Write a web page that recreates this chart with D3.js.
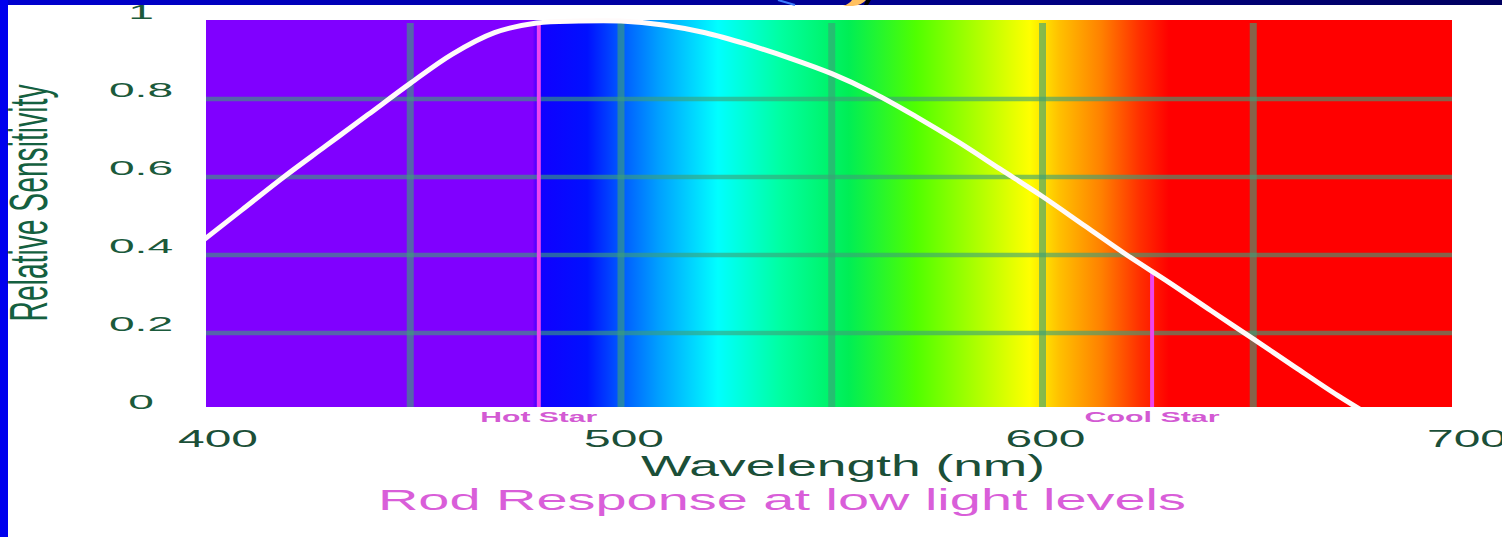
<!DOCTYPE html>
<html lang="en">
<head>
  <meta charset="UTF-8">
  <title>Rod Response</title>
  <script src="https://cdn.jsdelivr.net/npm/d3@7"></script>
  <style>
    body { margin: 0; background: #fff; }
    svg { display: block; font-family: "Liberation Sans", Arial, sans-serif; }
  </style>
</head>
<body>
  <div id="chart"></div>
  <script>
    // rod sensitivity curve
    const wavelength = [400, 410, 420, 430, 440, 450, 460, 470, 480, 490, 500, 510, 520, 530, 540,
      550, 560, 570, 580, 590, 600, 610, 620, 630, 640, 650, 660, 670, 676]
    const sensitivity = [0.43, 0.515, 0.6, 0.68, 0.76, 0.84, 0.915, 0.97, 0.995, 1.0, 1.0, 0.99, 0.97, 0.94, 0.905,
      0.865, 0.815, 0.755, 0.69, 0.62, 0.55, 0.475, 0.40, 0.33, 0.257, 0.185, 0.112, 0.04, 0]

    const xTicks = [400, 500, 600, 700]
    const yTicks = [0, 0.2, 0.4, 0.6, 0.8, 1]
    const yTickLabels = ["0", "0.2", "0.4", "0.6", "0.8", "1"]
    const gridX = [450, 500, 550, 600, 650]
    const gridY = [0.2, 0.4, 0.6, 0.8]

    const starNames = ["Hot Star", "Cool Star"]
    const starWavelengths = [480.5, 626]

    // background spectrum
    const spectrumNm = [400, 479, 481, 492, 499, 509, 523, 538, 554, 570, 597, 604, 614, 623, 630, 700]
    const spectrumColors = ["#8000ff", "#8000ff", "#1000ff", "#0010ff", "#0050ff", "#00a0ff", "#00ffff",
      "#00ffa0", "#00ee55", "#50ff00", "#ffff00", "#ffc000", "#ff8000", "#ff3000", "#ff0000", "#ff0000"]

    const width = 1502
    const height = 537
    const plot = { left: 206, right: 1452, top: 20, bottom: 407 }

    const x = d3.scaleLinear().domain([400, 700]).range([199.5, 1464])
    const y = d3.scaleLinear().domain([0, 1]).range([411, 21])

    const svg = d3.select("#chart").append("svg")
      .attr("width", width)
      .attr("height", height)

    svg.append("rect").attr("width", width).attr("height", height).attr("fill", "#fff")

    const defs = svg.append("defs")
    const grad = defs.append("linearGradient")
      .attr("id", "spectrum")
      .attr("gradientUnits", "userSpaceOnUse")
      .attr("x1", x(400)).attr("x2", x(700))
      .attr("y1", 0).attr("y2", 0)
    grad.selectAll("stop")
      .data(spectrumNm)
      .enter().append("stop")
      .attr("offset", d => (d - 400) / 300)
      .attr("stop-color", (_, i) => spectrumColors[i])

    const topBand = defs.append("linearGradient").attr("id", "band")
    topBand.append("stop").attr("offset", 0).attr("stop-color", "#0000d0")
    topBand.append("stop").attr("offset", 1).attr("stop-color", "#000060")

    defs.append("clipPath").attr("id", "plotClip")
      .append("rect")
      .attr("x", plot.left).attr("y", 0)
      .attr("width", plot.right - plot.left)
      .attr("height", plot.bottom)

    // slide frame
    svg.append("rect").attr("x", 0).attr("y", 0).attr("width", width).attr("height", 5).attr("fill", "url(#band)")
    svg.append("rect").attr("x", 0).attr("y", 0).attr("width", 8).attr("height", height).attr("fill", "#0000ee")

    // scraps of the slide title that got cropped away
    svg.append("line").attr("x1", 778).attr("y1", 0).attr("x2", 795).attr("y2", 5)
      .attr("stroke", "#3a7cff").attr("stroke-width", 2)
    svg.append("path").attr("d", "M866,0 L871,0 L868,5 L864,5 Z").attr("fill", "#000")
    svg.append("path").attr("d", "M852,0 L866,0 Q862,5 853,6 L843,6 Q849,4 852,0 Z").attr("fill", "#ffc060")

    svg.append("rect")
      .attr("x", plot.left).attr("y", plot.top)
      .attr("width", plot.right - plot.left)
      .attr("height", plot.bottom - plot.top)
      .attr("fill", "url(#spectrum)")

    const gridColor = "rgb(60,160,120)"
    const grid = svg.append("g").attr("clip-path", "url(#plotClip)")
    grid.selectAll(".gx")
      .data(gridX)
      .enter().append("line")
      .attr("x1", d => x(d)).attr("x2", d => x(d))
      .attr("y1", plot.top + 3).attr("y2", plot.bottom)
      .attr("stroke", gridColor)
      .attr("stroke-opacity", 0.62)
      .attr("stroke-width", 7)
    grid.selectAll(".gy")
      .data(gridY)
      .enter().append("line")
      .attr("x1", plot.left).attr("x2", plot.right)
      .attr("y1", d => y(d)).attr("y2", d => y(d))
      .attr("stroke", gridColor)
      .attr("stroke-opacity", 0.62)
      .attr("stroke-width", 4.5)

    const curve = wavelength.map((w, i) => [w, sensitivity[i]])
    const valueAt = w => {
      const i = d3.bisectLeft(wavelength, w)
      const t = (w - wavelength[i - 1]) / (wavelength[i] - wavelength[i - 1])
      return sensitivity[i - 1] + t * (sensitivity[i] - sensitivity[i - 1])
    }

    // star markers
    grid.selectAll(".star")
      .data(starWavelengths)
      .enter().append("line")
      .attr("x1", d => x(d)).attr("x2", d => x(d))
      .attr("y1", d => y(valueAt(d))).attr("y2", plot.bottom)
      .attr("stroke", "#ee44ee")
      .attr("stroke-width", 4)

    grid.append("path")
      .datum(curve)
      .attr("fill", "none")
      .attr("stroke", "#fffafa")
      .attr("stroke-width", 5)
      .attr("d", d3.line().x(d => x(d[0])).y(d => y(d[1])).curve(d3.curveCatmullRom))

    // stretched text, the whole slide is wide
    const label = (t, cx, base, size, len, color, weight) => svg.append("text")
      .attr("x", cx - len / 2)
      .attr("y", base)
      .attr("font-size", size)
      .attr("font-weight", weight || "normal")
      .attr("fill", color)
      .attr("textLength", len)
      .attr("lengthAdjust", "spacingAndGlyphs")
      .text(t)

    starNames.forEach((s, i) => label(s, x(starWavelengths[i]), 422, 14, s === "Hot Star" ? 117 : 135, "#d35ad3", "bold"))

    xTicks.forEach(v => label(String(v), Math.max(x(v) + 3, plot.left + 12), 447, 24, 80, "#1b4f38"))

    svg.selectAll(".ytick")
      .data(yTicks)
      .enter().append("text")
      .attr("transform", d => `translate(141, ${y(d) - 2}) scale(2.2, 1)`)
      .attr("text-anchor", "middle")
      .attr("font-size", 21)
      .attr("fill", "#1b5a3b")
      .text((_, i) => yTickLabels[i])

    label("Wavelength (nm)", 843, 476, 29, 404, "#1b4f38")
    label("Rod Response at low light levels", 782, 510, 30, 808, "#d95ed9")

    svg.append("text")
      .attr("transform", "translate(47, 203) scale(1.9, 1) rotate(-90)")
      .attr("text-anchor", "middle")
      .attr("font-size", 28)
      .attr("fill", "#146040")
      .attr("textLength", 237)
      .attr("lengthAdjust", "spacingAndGlyphs")
      .text("Relative Sensitivity")
  </script>
</body>
</html>
